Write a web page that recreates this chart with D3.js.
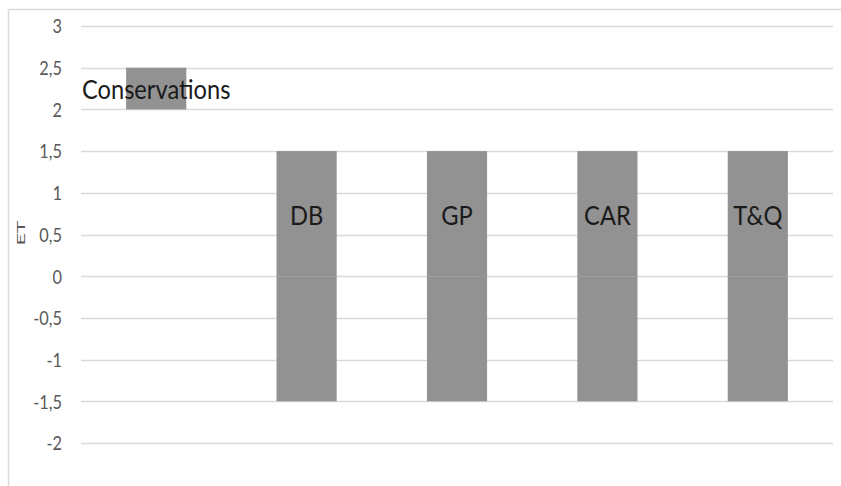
<!DOCTYPE html>
<html>
<head>
<meta charset="utf-8">
<script src="https://cdn.jsdelivr.net/npm/d3@7"></script>
<style>
  html, body { margin: 0; padding: 0; background: #fff; }
  svg { display: block; }
  text { font-family: Lato, "Open Sans", sans-serif; }
</style>
</head>
<body>
<svg id="chart" width="841" height="486"></svg>
<script>
// Categories along the x axis
const categories = ["Conservations", "DB", "GP", "CAR", "T&Q"];
// Invisible base segment that lifts the first bar
const baseValues = [2, 0, 0, 0, 0];
// Visible segment above the base (carries the label)
const upperValues = [0.5, 1.5, 1.5, 1.5, 1.5];
// Visible segment below zero
const lowerValues = [0, -1.5, -1.5, -1.5, -1.5];
// Y axis ticks
const yTicks = [-2, -1.5, -1, -0.5, 0, 0.5, 1, 1.5, 2, 2.5, 3];
const yTitle = "ET";

const svg = d3.select("#chart");
const W = 841, H = 486;

// Chart frame (top and left edges)
svg.append("line").attr("x1", 8.5).attr("x2", W).attr("y1", 9.5).attr("y2", 9.5)
  .attr("stroke", "#d9d9d9").attr("stroke-width", 1.5);
svg.append("line").attr("x1", 8.5).attr("x2", 8.5).attr("y1", 9.5).attr("y2", H)
  .attr("stroke", "#d9d9d9").attr("stroke-width", 1.5);

const plotLeft = 81, plotRight = 833;
const y = d3.scaleLinear().domain([-2, 3]).range([443, 26]);
const x = d3.scaleBand().domain(categories).range([plotLeft, plotRight])
  .paddingInner(0.6).paddingOuter(0.3);

// Gridlines
svg.append("g").selectAll("line").data(yTicks).join("line")
  .attr("x1", plotLeft).attr("x2", plotRight)
  .attr("y1", d => Math.round(y(d)) + 0.5).attr("y2", d => Math.round(y(d)) + 0.5)
  .attr("stroke", "#d9d9d9").attr("stroke-width", 1.5);

// Y axis labels (no domain line, no tick marks), slightly condensed
const fmt = d => String(d).replace(".", ",");
const yAxis = d3.axisLeft(y).tickValues(yTicks).tickFormat(fmt).tickSize(0).tickPadding(0);
const gy = svg.append("g").attr("transform", "translate(62,0)").call(yAxis);
gy.select(".domain").remove();
gy.selectAll(".tick text")
  .attr("fill", "#595959")
  .style("font-family", "Lato, sans-serif")
  .style("font-size", "19px")
  .attr("x", 0)
  .attr("dy", "0.36em")
  .attr("transform", "scale(0.86,1)");

// Axis title
svg.append("text")
  .attr("transform", `translate(24.5,233) rotate(-90)`)
  .attr("text-anchor", "middle")
  .attr("fill", "#595959")
  .style("font-size", "12px")
  .attr("textLength", 25)
  .attr("lengthAdjust", "spacingAndGlyphs")
  .text(yTitle);

// Stacked segments
const rows = categories.map((c, i) => ({ cat: c, base: baseValues[i], upper: upperValues[i], lower: lowerValues[i] }));
const stack = d3.stack().keys(["base", "upper", "lower"]).offset(d3.stackOffsetDiverging);
const series = stack(rows);
const fills = { base: "none", upper: "#929292", lower: "#929292" };

svg.append("g").selectAll("g").data(series).join("g")
  .attr("fill", s => fills[s.key])
  .selectAll("rect").data(s => s).join("rect")
  .attr("x", d => x(d.data.cat))
  .attr("width", x.bandwidth())
  .attr("y", d => y(Math.max(d[0], d[1])))
  .attr("height", d => Math.abs(y(d[0]) - y(d[1])));

// Category labels centred on the upper segment, slightly condensed
const upperSeries = series.find(s => s.key === "upper");
svg.append("g").selectAll("text").data(upperSeries).join("text")
  .attr("transform", d => `translate(${x(d.data.cat) + x.bandwidth() / 2},${y((d[0] + d[1]) / 2) + 1.5}) scale(0.91,1)`)
  .attr("dy", "0.36em")
  .attr("text-anchor", "middle")
  .attr("fill", "#1a1a1a")
  .style("font-size", "26px")
  .text(d => d.data.cat);
</script>
</body>
</html>
